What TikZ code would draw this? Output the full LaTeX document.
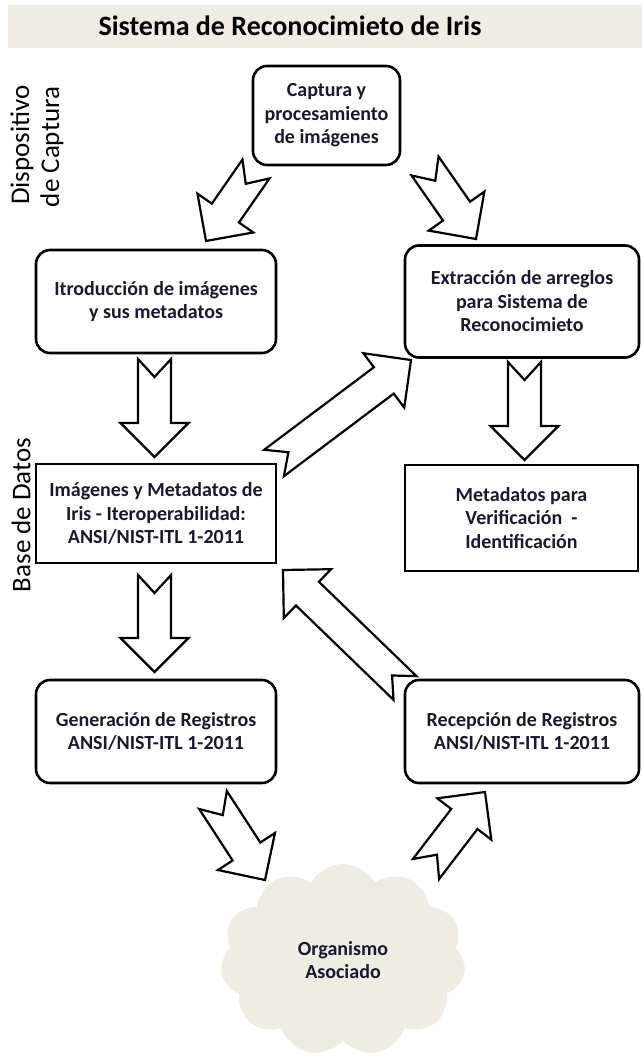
\documentclass[tikz,border=0pt]{standalone}
\usepackage{fontspec}
\setmainfont{Carlito}
\usetikzlibrary{calc}
\usetikzlibrary{shapes.symbols}
\definecolor{beige}{RGB}{238, 236, 227}
\definecolor{txt}{rgb}{0.1, 0.1, 0.18}
\tikzset{box/.style = {draw, line width = 2.6pt, rounded corners = 14pt, align = center, text = txt,
    font = \bfseries\fontsize{20}{23.5}\selectfont}}
\tikzset{sqbox/.style = {box, rounded corners = 0pt}}
\tikzset{barrow/.style = {draw, line width = 2.2pt, fill = white, line join = miter}}
\tikzset{side/.style = {rotate = 90, font = \fontsize{27}{28}\selectfont}}
\newcommand\blockarrow[2]{%
  \draw [barrow] ($(#1)!16.5pt!90:(#2)$) -- ($(#1)!18pt!(#2)$) -- ($(#1)!16.5pt!-90:(#2)$)
    -- ($(#2)!34pt!(#1)!16.5pt!90:(#1)$) -- ($(#2)!34pt!(#1)!34pt!90:(#1)$) -- (#2)
    -- ($(#2)!34pt!(#1)!34pt!-90:(#1)$) -- ($(#2)!34pt!(#1)!16.5pt!-90:(#1)$) -- cycle;}

\begin{document}
\begin{tikzpicture}[x = 1pt, y = -1pt]
    \useasboundingbox (0, 0) rectangle (642, 1059);

    % title band
    \fill [beige] (8, 5) rectangle (642, 48);
    \node [font = \bfseries\fontsize{28}{30}\selectfont] (title) at (290, 26) {Sistema de Reconocimieto de Iris};

    \node [side] (disp) at (22, 145) {Dispositivo};
    \node [side] (capt) at (52, 147) {de Captura};
    \node [side] (bdat) at (21, 515) {Base de Datos};

    % boxes
    \node [box, minimum width = 147, minimum height = 99] (cap) at (326.5, 115.5) {Captura y\\procesamiento\\de imágenes};
    \node [box, minimum width = 240, minimum height = 103] (intro) at (156, 301.5) {Itroducción de imágenes\\y sus metadatos};
    \node [box, minimum width = 234, minimum height = 112] (extr) at (522, 301.5) {Extracción de arreglos\\para Sistema de\\Reconocimieto};
    \node [sqbox, minimum width = 240, minimum height = 99] (imag) at (156, 513.5) {Imágenes y Metadatos de\\Iris - Iteroperabilidad:\\ANSI/NIST-ITL 1-2011};
    \node [sqbox, minimum width = 233, minimum height = 106] (meta) at (521.5, 518) {Metadatos para\\Verificación \ -\\Identificación};
    \node [box, minimum width = 240, minimum height = 103] (gen) at (156, 731.5) {Generación de Registros\\ANSI/NIST-ITL 1-2011};
    \node [box, minimum width = 234, minimum height = 103] (rec) at (522, 731.5) {Recepción de Registros\\ANSI/NIST-ITL 1-2011};

    \node [cloud, cloud puffs = 11, cloud puff arc = 120, fill = beige, minimum width = 245, minimum height = 192,
      align = center, text = txt, font = \bfseries\fontsize{20}{23.5}\selectfont] (org) at (343, 960) {Organismo\\Asociado};

    % arrow ends
    \coordinate (capA) at (256, 169);   \coordinate (introA) at (206, 241);
    \coordinate (capB) at (425, 166);   \coordinate (extrA) at (476, 239);
    \coordinate (introB) at (154.5, 359); \coordinate (imagA) at (154.5, 457);
    \coordinate (extrB) at (524.5, 362); \coordinate (metaA) at (524.5, 460);
    \coordinate (imagB) at (274, 463);  \coordinate (extrC) at (411, 360);
    \coordinate (imagC) at (154.5, 575); \coordinate (genA) at (154.5, 672);
    \coordinate (recA) at (405, 688);   \coordinate (imagD) at (283, 570);
    \coordinate (genB) at (213, 800);   \coordinate (orgA) at (265, 880);
    \coordinate (orgB) at (426, 869);   \coordinate (recB) at (485, 792);

    \foreach \a/\b in {capA/introA, capB/extrA, introB/imagA, extrB/metaA, imagB/extrC,
                       imagC/genA, recA/imagD, genB/orgA, orgB/recB} {
      \blockarrow{\a}{\b}
    }
\end{tikzpicture}
\end{document}
